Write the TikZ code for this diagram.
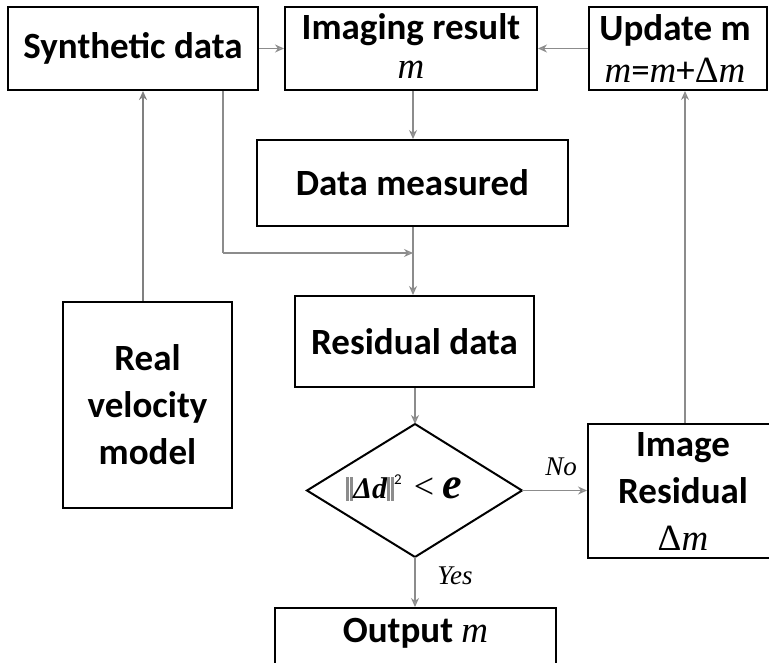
\documentclass[tikz,border=0pt]{standalone}
\usepackage{fontspec}
\setmainfont{Carlito}
\newfontfamily\tms{Liberation Serif}
\usetikzlibrary{arrows.meta}
\tikzset{
  bigfont/.style={font=\fontsize{37}{47}\selectfont\bfseries},
  box/.style={draw=black, line width=2pt, fill=white, inner sep=0pt, bigfont, align=center},
  conn/.style={draw=black!45, line width=1.3pt, -{Stealth[length=9pt,width=8pt,open]}},
  plain/.style={draw=black!45, line width=1.3pt},
  lbl/.style={font=\fontsize{27}{27}\selectfont\tms\itshape, inner sep=0pt}
}
\newcommand{\mi}{{\tms\mdseries\itshape m}}
\newcommand{\dlt}{{\tms\mdseries\upshape Δ}}
\newcommand{\dbar}{{\color{black!45}\rule[-2pt]{3pt}{24pt}\hspace{1pt}\rule[-2pt]{3pt}{24pt}}}
\begin{document}
\begin{tikzpicture}[x=1pt,y=-1pt]
\useasboundingbox (0,0) rectangle (769,663);
\clip (0,0) rectangle (769,663);
\node[box, minimum width=250pt, minimum height=83pt] (syn) at (133,48.5) {Synthetic data};
\node[box, minimum width=252pt, minimum height=83pt] (img) at (411,48.5) {};
\node[bigfont] at (411,30) {Imaging result};
\node[font=\fontsize{37}{47}\selectfont] at (411,70) {\mi};
\node[box, minimum width=178pt, minimum height=83pt] (upd) at (678,48.5) {};
\node[bigfont] at (675,30) {Update m};
\node[font=\fontsize{37}{47}\selectfont] at (675,70) {\mi=\mi+\dlt\mi};
\node[box, minimum width=311pt, minimum height=86pt] (dat) at (412.5,183) {Data measured};
\node[box, minimum width=239pt, minimum height=91pt] (res) at (414.5,341.5) {Residual data};
\node[box, minimum width=169pt, minimum height=206pt] (real) at (147.5,405) {Real\\velocity\\model};
\coordinate (dT) at (415,424);
\coordinate (dB) at (415,557);
\coordinate (dL) at (307,490.5);
\coordinate (dR) at (522,490.5);
\draw[line width=2pt, fill=white] (dT) -- (dR) -- (dB) -- (dL) -- cycle;
\node[inner sep=0pt] (cond) at (404,488) {\dbar{\tms\fontsize{30}{30}\selectfont\bfseries\itshape Δd}\dbar\raisebox{14pt}{\fontsize{15}{15}\selectfont 2}\hspace{12pt}{\tms\fontsize{36}{36}\selectfont <}\hspace{8pt}{\tms\fontsize{44}{44}\selectfont\bfseries\itshape e}};
\node[box, minimum width=200pt, minimum height=134pt] (imr) at (688,491) {};
\node[bigfont, align=center] at (683,468) {Image\\Residual};
\node[font=\fontsize{37}{47}\selectfont] at (683,538) {\dlt\mi};
\node[box, minimum width=281pt, minimum height=80pt] (out) at (415.5,648) {};
\node[bigfont] at (415.5,633) {Output \mi};
% connectors
\draw[conn] (syn.east) -- (img.west);
\draw[conn] (upd.west) -- (img.east);
\draw[conn] (img.south -| 413,0) -- (dat.north -| 413,0);
\draw[draw=black!50, line width=2pt, -{Stealth[length=9pt,width=8pt,open]}] (real.north -| 143,0) -- (syn.south -| 143,0);
\coordinate (corner) at (223,253);
\coordinate (join) at (413,253);
\draw[plain] (syn.south -| corner) -- (corner);
\draw[conn] (corner) -- (join);
\draw[conn] (dat.south -| 413,0) -- (res.north -| 413,0);
\draw[conn] (res.south -| dT) -- (dT);
\draw[conn] (dR) -- (imr.west |- dR);
\draw[conn] (dB) -- (out.north -| dB);
\draw[conn] (imr.north -| 685,0) -- (upd.south -| 685,0);
\node[lbl] at (561,467) {No};
\node[lbl] at (455,576) {Yes};
\end{tikzpicture}
\end{document}
